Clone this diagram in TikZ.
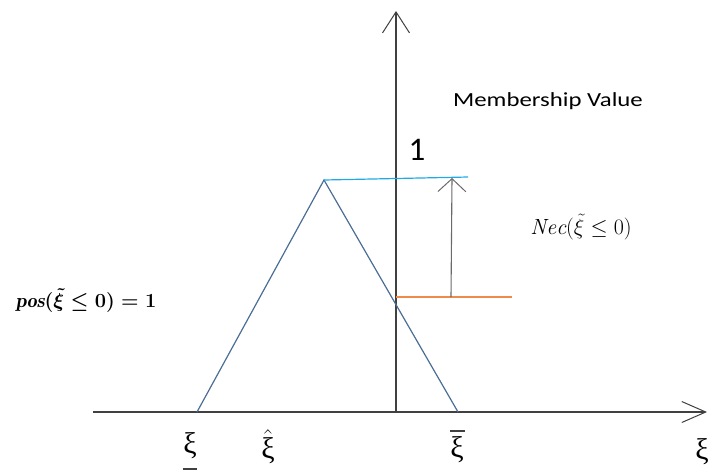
\RequirePackage{fix-cm}
\documentclass[tikz,border=0pt]{standalone}
\usepackage{fontspec}
\usepackage{amsmath}
\newfontfamily\calib{Carlito}
\newfontfamily\grk{Liberation Serif}
\usetikzlibrary{arrows.meta}
\definecolor{axisgray}{HTML}{404040}
\definecolor{tribl}{HTML}{4A6D96}
\definecolor{topcyan}{HTML}{1FAAE6}
\definecolor{lowor}{HTML}{EE8A4A}
\definecolor{arrgray}{HTML}{6A6A6A}
\tikzset{
  axisline/.style={draw=axisgray,line width=1.1pt},
  xilabel/.style={font=\grk\fontsize{30}{30}\selectfont,inner sep=0pt}
}

\begin{document}
\begin{tikzpicture}[x=1pt,y=-1pt]
  \useasboundingbox (0,0) rectangle (708,472);
  \coordinate (O) at (396,412);
  \coordinate (xs) at (93,412);
  \coordinate (xe) at (707,412);
  \coordinate (ye) at (396,11);
  \coordinate (L) at (197,412);
  \coordinate (P) at (324,180);
  \coordinate (R) at (458,412);
  \coordinate (Ctop) at (468,177);
  \coordinate (Ob) at (396,297);
  \coordinate (Oe) at (512,297);
  \coordinate (Ab) at (451,297);
  \coordinate (At) at (452,178);
  % axes
  \draw[axisline,-{Straight Barb[length=24pt,width=21pt,line width=1pt]}] (xs) -- (xe);
  \draw[axisline,-{Straight Barb[length=21pt,width=27pt,line width=1pt]}] (O) -- (ye);
  % membership function
  \draw[tribl,line width=1.2pt] (L) -- (P) -- (R);
  \draw[topcyan,line width=1.2pt] (P) -- (Ctop);
  \draw[lowor,line width=1.1pt] (Ob) -- (Oe);
  \draw[arrgray,line width=1.1pt,-{Straight Barb[length=13pt,width=28pt,line width=1pt]}] (Ab) -- (At);
  % labels
  \node[font=\calib\fontsize{20}{20}\selectfont,xscale=1.24] (mv) at (548,101) {Membership Value};
  \node[font=\calib\fontsize{33}{33}\selectfont] (one) at (417,150) {1};
  \node[font=\fontsize{22}{22}\selectfont,inner sep=0pt] (nec) at (581,227) {$\mathit{Nec}(\tilde{\xi}\leq 0)$};
  \node[font=\fontsize{20}{20}\selectfont,inner sep=0pt] (pos) at (86,301) {$\boldsymbol{\mathit{pos}(\tilde{\xi}\leq 0)=1}$};
  \node[xilabel] (xil) at (190,446) {ξ};
  \draw[axisgray,line width=1.6pt] (183,469) -- (197,469);
  \node[xilabel] (xih) at (268,447) {$\hat{\text{ξ}}$};
  \node[xilabel] (xiu) at (457,450) {ξ};
  \draw[axisgray,line width=1.6pt] (450,431) -- (465,431);
  \node[xilabel] (xir) at (702,452) {ξ};
\end{tikzpicture}
\end{document}
